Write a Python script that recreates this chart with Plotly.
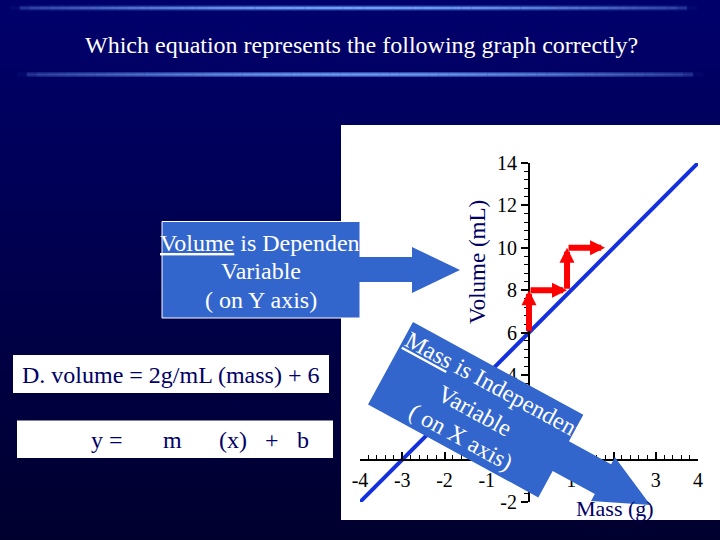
import math
import plotly.graph_objects as go

W, H = 720, 540

# ---------------- data ----------------
mass = [-4, -3, -2, -1, 0, 1, 2, 3, 4]
volume = [-2, 0, 2, 4, 6, 8, 10, 12, 14]
x_ticks = [-4, -3, -2, -1, 0, 1, 2, 3, 4]
x_tick_text = ["-4", "-3", "-2", "-1", "", "1", "2", "3", "4"]
y_ticks = [-2, 0, 2, 4, 6, 8, 10, 12, 14]
y_tick_text = ["-2", "", "2", "4", "6", "8", "10", "12", "14"]
step_tail_x = [0, 0, 0.9, 0.9]
step_tail_y = [6, 8, 8, 10]
step_head_x = [0, 0.9, 0.9, 1.8]
step_head_y = [8, 8, 10, 10]

title_text = "Which equation represents the following graph correctly?"
dep_lines = ["<u>Volume</u> is Dependent", "Variable", "( on Y axis)"]
indep_lines = ["<u>Mass</u> is Independent", "Variable", "( on X axis)"]
equation_text = "D. volume = 2g/mL (mass) + 6"
form_tokens = ["y =", "m", "(x)", "+", "b"]
x_title = "Mass (g)"
y_title = "Volume (mL)"

# ---------------- layout helpers ----------------
SERIF = "Liberation Serif, Times New Roman, serif"
NAVY = "#000066"
BOXBLUE = "#3366CC"


def px(x):
    return x / W


def py(y):
    return 1 - y / H


def mix(c1, c2, t):
    return tuple(a + (b - a) * t for a, b in zip(c1, c2))


def rgb(c):
    return "rgb(%d,%d,%d)" % tuple(round(v) for v in c)


X0, X1 = 360, 698   # pixel columns of the x-range ends
Y0, Y1 = 502, 163   # pixel rows of the y-range ends
ox = X0 + (0 - mass[0]) / (mass[-1] - mass[0]) * (X1 - X0)
oy = Y0 - (0 - volume[0]) / (volume[-1] - volume[0]) * (Y0 - Y1)

shapes = []
TOP = (0, 0, 108)
BOT = (0, 0, 46)
n = 54
for i in range(n):
    ya = i * H / n
    yb = (i + 1) * H / n + 0.6
    shapes.append(dict(type="rect", xref="paper", yref="paper", x0=0, x1=1,
                       y0=py(yb), y1=py(ya), fillcolor=rgb(mix(TOP, BOT, (i + 0.5) / n)),
                       line_width=0, layer="below"))

# decorative glowing rules
for (xa, xb, yc) in [(10, 697, 8), (17, 703, 74.5)]:
    m = 70
    bgc = mix(TOP, BOT, yc / H)
    for j in range(m):
        t = (j + 0.5) / m
        xs0 = xa + j * (xb - xa) / m
        xs1 = xa + (j + 1) * (xb - xa) / m + 0.4
        dist = min(xs0 - xa, xb - xs1) + 2
        f = (0.35 + 0.65 * math.sin(math.pi * t)) * min(1.0, dist / 14)
        outer = rgb(mix(bgc, (55, 90, 185), f))
        inner = rgb(mix(bgc, (115, 158, 245), f))
        shapes.append(dict(type="rect", xref="paper", yref="paper", x0=px(xs0), x1=px(xs1),
                           y0=py(yc + 2.4), y1=py(yc - 2.4), fillcolor=outer, line_width=0,
                           layer="below"))
        shapes.append(dict(type="rect", xref="paper", yref="paper", x0=px(xs0), x1=px(xs1),
                           y0=py(yc + 1.0), y1=py(yc - 1.0), fillcolor=inner, line_width=0,
                           layer="below"))

# white graph panel
shapes.append(dict(type="rect", xref="paper", yref="paper", x0=px(341), x1=px(720),
                   y0=py(520), y1=py(125), fillcolor="white", line_width=0, layer="below"))

# dependent-variable callout box + arrow
shapes.append(dict(type="rect", xref="paper", yref="paper", x0=px(162), x1=px(360),
                   y0=py(318), y1=py(221.5), fillcolor=BOXBLUE,
                   line=dict(color="white", width=1), layer="below"))
arrow_pts = [(359, 257), (412, 257), (412, 247), (460, 270), (412, 293), (412, 282), (359, 282)]
path = "M " + " L ".join("%.5f %.5f" % (px(a), py(b)) for a, b in arrow_pts) + " Z"
shapes.append(dict(type="path", xref="paper", yref="paper", path=path,
                   fillcolor=BOXBLUE, line_width=0, layer="below"))

# equation boxes
shapes.append(dict(type="rect", xref="paper", yref="paper", x0=px(13), x1=px(329),
                   y0=py(393), y1=py(355), fillcolor="white", line_width=0, layer="below"))
shapes.append(dict(type="rect", xref="paper", yref="paper", x0=px(17), x1=px(333),
                   y0=py(458), y1=py(420.5), fillcolor="white", line_width=0, layer="below"))

# rotated independent-variable callout
ang = math.radians(28.6)
ux, uy = math.cos(ang), math.sin(ang)
vx, vy = -math.sin(ang), math.cos(ang)
TLx, TLy = 413, 322


def loc(u, v):
    return TLx + u * ux + v * vx, TLy + u * uy + v * vy


call_local = [(0, 0), (194, 0), (194, 30), (242, 30), (242, 22), (296, 47), (242, 72),
              (242, 64), (194, 64), (194, 94), (0, 94)]
pts = [loc(u, v) for u, v in call_local]
path = "M " + " L ".join("%.5f %.5f" % (px(a), py(b)) for a, b in pts) + " Z"
shapes.append(dict(type="path", xref="paper", yref="paper", path=path,
                   fillcolor=BOXBLUE, line_width=0, layer="above"))

# ---------------- figure ----------------
fig = go.Figure()
fig.add_trace(go.Scatter(x=mass, y=volume, mode="lines",
                         line=dict(color="#1430dc", width=4), hoverinfo="skip"))

annotations = []
annotations.append(dict(text=title_text, xref="paper", yref="paper", x=px(361), y=py(45),
                        showarrow=False, font=dict(family=SERIF, size=24, color="white"),
                        xanchor="center", yanchor="middle"))
for txt, xx, yy in zip(dep_lines, [263, 261, 261], [243, 271, 300]):
    annotations.append(dict(text=txt, xref="paper", yref="paper", x=px(xx), y=py(yy),
                            showarrow=False, font=dict(family=SERIF, size=24, color="white"),
                            xanchor="center", yanchor="middle"))
for txt, uu, vv in zip(indep_lines, [101, 97, 97], [17, 48, 78]):
    cx, cy = loc(uu, vv)
    annotations.append(dict(text=txt, xref="paper", yref="paper", x=px(cx), y=py(cy),
                            showarrow=False, textangle=28.6,
                            font=dict(family=SERIF, size=24, color="white"),
                            xanchor="center", yanchor="middle"))
annotations.append(dict(text=equation_text, xref="paper", yref="paper", x=px(170), y=py(375),
                        showarrow=False, font=dict(family=SERIF, size=24, color=NAVY),
                        xanchor="center", yanchor="middle"))
for tok, xx in zip(form_tokens, [107, 172, 233, 272, 303]):
    annotations.append(dict(text=tok, xref="paper", yref="paper", x=px(xx), y=py(440),
                            showarrow=False, font=dict(family=SERIF, size=24, color=NAVY),
                            xanchor="center", yanchor="middle"))
annotations.append(dict(text=y_title, xref="paper", yref="paper", x=px(477), y=py(262),
                        showarrow=False, textangle=-90,
                        font=dict(family=SERIF, size=23, color=NAVY),
                        xanchor="center", yanchor="middle"))
annotations.append(dict(text=x_title, xref="paper", yref="paper", x=px(615), y=py(508),
                        showarrow=False, font=dict(family=SERIF, size=22, color=NAVY),
                        xanchor="center", yanchor="middle"))
for tx, ty, hx, hy in zip(step_tail_x, step_tail_y, step_head_x, step_head_y):
    annotations.append(dict(text="", x=hx, y=hy, ax=tx, ay=ty, xref="x", yref="y",
                            axref="x", ayref="y", showarrow=True, arrowhead=2,
                            arrowsize=0.5, arrowwidth=6, arrowcolor="#ff0000", standoff=0))

tickfont = dict(family=SERIF, size=20, color="black")
fig.update_layout(
    width=W, height=H, autosize=False,
    margin=dict(l=0, r=0, t=0, b=0, pad=0, autoexpand=False),
    paper_bgcolor="#000050", plot_bgcolor="rgba(0,0,0,0)",
    showlegend=False, shapes=shapes, annotations=annotations,
    xaxis=dict(domain=[px(X0), px(X1)], range=[mass[0], mass[-1]], anchor="free",
               position=py(oy), showgrid=False, zeroline=False, showline=True,
               automargin=False,
               linecolor="black", linewidth=2, ticks="inside", ticklen=7, tickwidth=1.5,
               tickcolor="black", tickmode="array", tickvals=x_ticks, ticktext=x_tick_text,
               tickfont=tickfont, ticklabelstandoff=2,
               minor=dict(tickmode="linear", tick0=-4, dtick=0.2, ticks="inside", ticklen=4,
                          tickwidth=1.2, tickcolor="black"),
               fixedrange=True),
    yaxis=dict(domain=[py(Y0), py(Y1)], range=[volume[0], volume[-1]], anchor="free",
               position=px(ox), showgrid=False, zeroline=False, showline=True,
               automargin=False,
               linecolor="black", linewidth=2, ticks="outside", ticklen=7, tickwidth=1.5,
               tickcolor="black", tickmode="array", tickvals=y_ticks, ticktext=y_tick_text,
               tickfont=tickfont, ticklabelstandoff=0,
               minor=dict(tickmode="linear", tick0=-2, dtick=0.4, ticks="outside", ticklen=4,
                          tickwidth=1.2, tickcolor="black"),
               fixedrange=True),
)

fig.write_html(
    "out.html",
    config={"displayModeBar": False},
    post_script="document.body.style.margin='0';document.body.style.overflow='hidden';"
                "document.documentElement.style.overflow='hidden';",
)
